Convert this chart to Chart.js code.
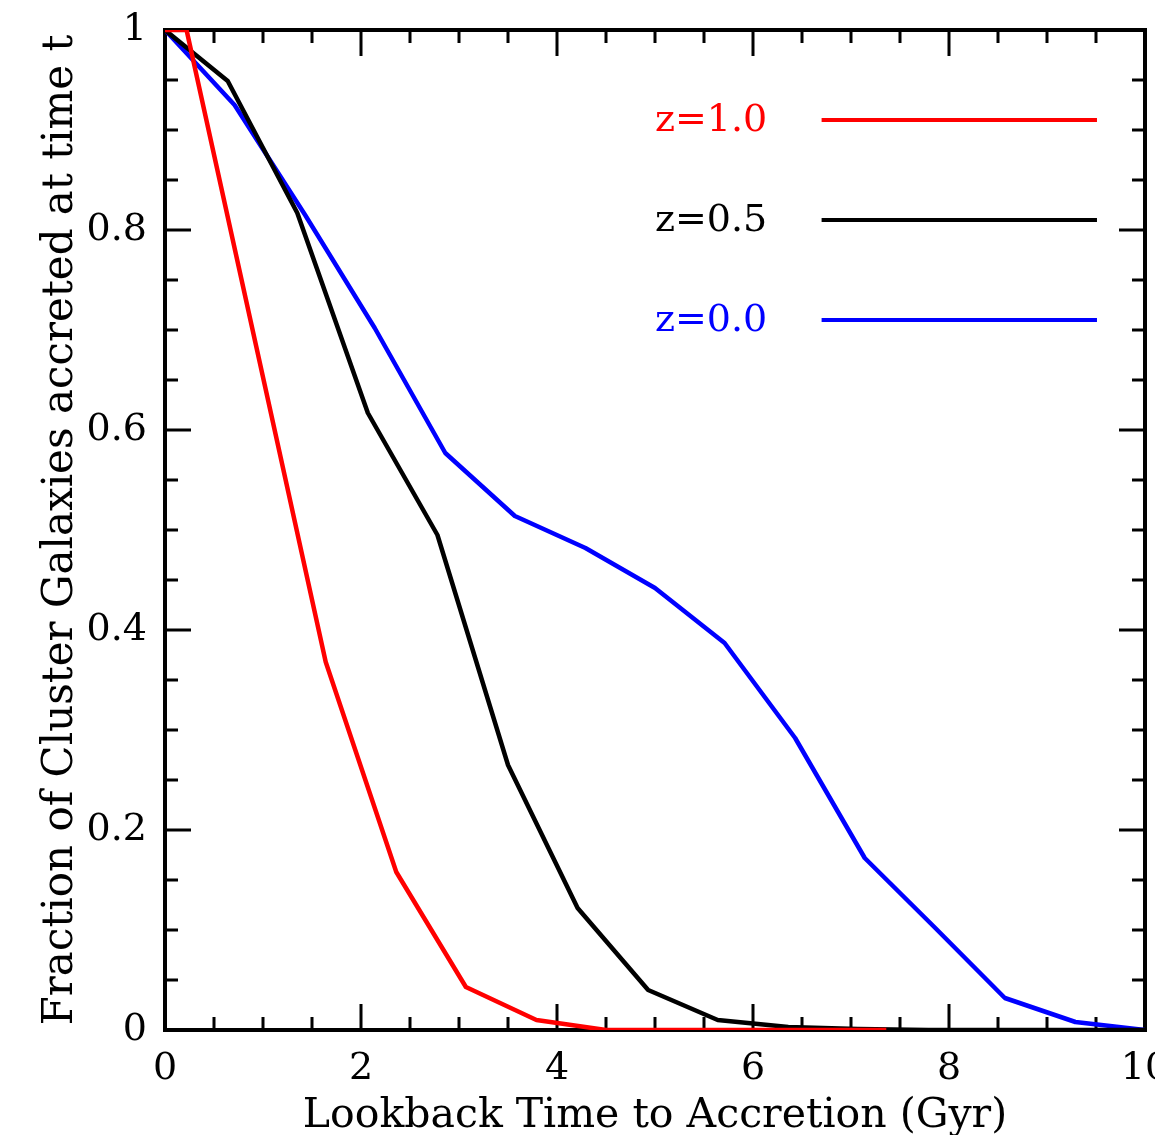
<!DOCTYPE html>
<html>
<head>
<meta charset="utf-8">
<script src="https://cdn.jsdelivr.net/npm/chart.js@4.4.0/dist/chart.umd.min.js"></script>
<style>
  html, body { margin: 0; padding: 0; background: #fff; }
  #wrap { width: 1155px; height: 1135px; }
</style>
</head>
<body>
<div id="wrap"><canvas id="chart" width="1155" height="1135"></canvas></div>
<script>
// lookback time (Gyr) and accreted fraction, one pair of arrays per redshift
const timesZ10 = [0, 0.22, 0.93, 1.64, 2.36, 3.07, 3.79, 4.5, 5.22, 5.93, 6.65, 7.36];
const fracZ10  = [1.0, 1.0, 0.684, 0.368, 0.158, 0.043, 0.010, 0.0, 0.0, 0.0, 0.0, 0.0];

const timesZ05 = [0, 0.64, 1.35, 2.07, 2.78, 3.5, 4.21, 4.93, 5.64, 6.36, 7.07, 7.79, 8.5, 9.21, 10.0];
const fracZ05  = [1.0, 0.949, 0.817, 0.617, 0.495, 0.265, 0.122, 0.040, 0.010, 0.003, 0.001, 0.0, 0.0, 0.0, 0.0];

const timesZ00 = [0, 0.71, 1.43, 2.14, 2.86, 3.57, 4.29, 5.0, 5.71, 6.43, 7.14, 7.86, 8.57, 9.29, 10.0];
const fracZ00  = [1.0, 0.925, 0.815, 0.702, 0.577, 0.514, 0.482, 0.442, 0.387, 0.292, 0.172, 0.102, 0.032, 0.008, 0.0];

const seriesLabels = ['z=1.0', 'z=0.5', 'z=0.0'];
const seriesColors = ['#ff0000', '#000000', '#0000ff'];

const FONT = "'DejaVu Serif', serif";

function toPoints(xs, ys) {
  return xs.map((t, i) => ({ x: t, y: ys[i] }));
}

// box + inward ticks on all four sides (PGPLOT style)
const frameTicks = {
  id: 'frameTicks',
  beforeDatasetsDraw(chart) {
    const { ctx, chartArea: a, scales: { x, y } } = chart;
    ctx.save();
    ctx.strokeStyle = '#000';
    ctx.lineWidth = 3;
    ctx.beginPath();
    for (let i = 0; i <= 20; i++) {
      const px = x.getPixelForValue(i * 0.5);
      const len = i % 4 === 0 ? 26 : 13;
      ctx.moveTo(px, a.bottom); ctx.lineTo(px, a.bottom - len);
      ctx.moveTo(px, a.top); ctx.lineTo(px, a.top + len);
    }
    for (let i = 0; i <= 20; i++) {
      const py = y.getPixelForValue(i * 0.05);
      const len = i % 4 === 0 ? 26 : 13;
      ctx.moveTo(a.left, py); ctx.lineTo(a.left + len, py);
      ctx.moveTo(a.right, py); ctx.lineTo(a.right - len, py);
    }
    ctx.stroke();
    ctx.lineWidth = 4;
    ctx.strokeRect(a.left, a.top, a.right - a.left, a.bottom - a.top);
    ctx.restore();
  }
};

// legend drawn inside the plot, text then a line sample
const insideLegend = {
  id: 'insideLegend',
  afterDatasetsDraw(chart) {
    const { ctx, scales: { x, y } } = chart;
    const rows = [0.91, 0.81, 0.71];
    ctx.save();
    ctx.font = '38px ' + FONT;
    ctx.textBaseline = 'middle';
    ctx.textAlign = 'left';
    rows.forEach((r, i) => {
      const py = y.getPixelForValue(r);
      ctx.fillStyle = seriesColors[i];
      ctx.fillText(seriesLabels[i], x.getPixelForValue(5.0), py + 1);
      ctx.strokeStyle = seriesColors[i];
      ctx.lineWidth = 4;
      ctx.beginPath();
      ctx.moveTo(x.getPixelForValue(6.7), py);
      ctx.lineTo(x.getPixelForValue(9.51), py);
      ctx.stroke();
    });
    ctx.restore();
  }
};

const ctx = document.getElementById('chart').getContext('2d');
new Chart(ctx, {
  type: 'line',
  data: {
    datasets: [
      { label: seriesLabels[0], data: toPoints(timesZ10, fracZ10), borderColor: seriesColors[0], borderWidth: 4.5 },
      { label: seriesLabels[1], data: toPoints(timesZ05, fracZ05), borderColor: seriesColors[1], borderWidth: 4.5 },
      { label: seriesLabels[2], data: toPoints(timesZ00, fracZ00), borderColor: seriesColors[2], borderWidth: 4.5 }
    ]
  },
  options: {
    responsive: false,
    animation: false,
    events: [],
    elements: {
      line: { tension: 0, fill: false, borderJoinStyle: 'round' },
      point: { radius: 0 }
    },
    layout: { padding: { top: 30, right: 10, left: 0, bottom: 0 }, autoPadding: false },
    plugins: { legend: { display: false }, tooltip: { enabled: false } },
    scales: {
      x: {
        type: 'linear',
        min: 0,
        max: 10,
        grid: { display: false },
        border: { display: false },
        ticks: { stepSize: 2, color: '#000', font: { family: FONT, size: 38 }, padding: 8, maxRotation: 0 },
        title: {
          display: true,
          text: 'Lookback Time to Accretion (Gyr)',
          color: '#000',
          font: { family: FONT, size: 41, lineHeight: 1 },
          padding: { top: 0, bottom: -2 }
        },
        afterFit(scale) {
          scale.height = 105;
          scale.paddingLeft = 0;
          scale.paddingRight = 0;
        }
      },
      y: {
        min: 0,
        max: 1,
        grid: { display: false },
        border: { display: false },
        ticks: {
          stepSize: 0.2,
          color: '#000',
          font: { family: FONT, size: 38 },
          padding: 10,
          callback: v => String(parseFloat(v.toFixed(1)))
        },
        title: {
          display: true,
          text: 'Fraction of Cluster Galaxies accreted at time t',
          color: '#000',
          font: { family: FONT, size: 42, lineHeight: 1 },
          padding: { top: 40, bottom: 0 }
        },
        afterFit(scale) {
          scale.width = 165;
          scale.paddingTop = 0;
          scale.paddingBottom = 0;
        }
      }
    }
  },
  plugins: [frameTicks, insideLegend]
});
</script>
</body>
</html>
